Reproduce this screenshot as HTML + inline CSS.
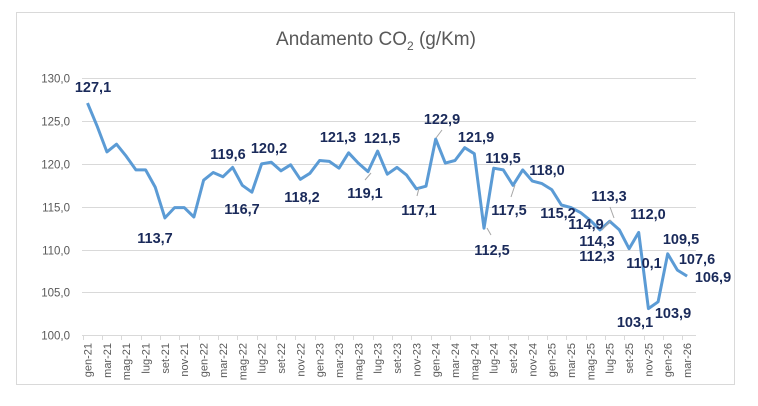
<!DOCTYPE html>
<html><head><meta charset="utf-8"><style>
html,body{margin:0;padding:0;background:#fff;}
svg{display:block;font-family:"Liberation Sans",Calibri,sans-serif;}
.yl{font-size:11.5px;fill:#595959;text-anchor:end;}
.xl{font-size:11px;fill:#595959;text-anchor:end;}
.dl{font-size:14.5px;font-weight:bold;fill:#1a2a5a;text-anchor:middle;}
</style></head><body>
<svg width="758" height="406" viewBox="0 0 758 406">
<rect x="16.5" y="12.5" width="718" height="372" fill="#fff" stroke="#d9d9d9"/>
<text x="376" y="45" font-size="19" fill="#595959" text-anchor="middle">Andamento CO<tspan font-size="12" dy="5">2</tspan><tspan dy="-5"> (g/Km)</tspan></text>
<g id="grid" stroke="#d9d9d9" stroke-width="1"></g>
<g id="yl"></g>
<g id="xl"></g>
<polyline id="line" fill="none" stroke="#5b9bd5" stroke-width="3" stroke-linejoin="round"/>
<g stroke="#a6a6a6" stroke-width="1">
<line x1="365" y1="180" x2="371" y2="173"/>
<line x1="417" y1="196" x2="419" y2="188"/>
<line x1="436" y1="138" x2="442" y2="130"/>
<line x1="487" y1="228" x2="491" y2="235"/>
<line x1="511" y1="197" x2="515" y2="185"/>
<line x1="611" y1="220" x2="602" y2="230"/>
<line x1="610" y1="207" x2="614" y2="218"/>
</g>
<g id="dl"></g>
</svg>
<script>
var d=[127.1,124.4,121.4,122.3,120.9,119.3,119.3,117.3,113.7,114.9,114.9,113.8,
118.1,119.0,118.5,119.6,117.5,116.7,120.0,120.2,119.2,119.9,118.2,118.9,
120.4,120.3,119.5,121.3,120.1,119.1,121.5,118.8,119.6,118.7,117.1,117.4,
122.9,120.1,120.4,121.9,121.2,112.5,119.5,119.3,117.5,119.3,118.0,117.7,
117.0,115.2,114.9,114.3,113.4,112.3,113.3,112.3,110.1,112.0,103.1,103.9,
109.5,107.6,106.9];
var ns="http://www.w3.org/2000/svg";
function el(t,a,p,txt){var e=document.createElementNS(ns,t);for(var k in a)e.setAttribute(k,a[k]);if(txt)e.textContent=txt;document.getElementById(p).appendChild(e);return e;}
var x0=82.7,st=9.67;
function Y(v){return 78.3+(130-v)*8.563;}
for(var v=100;v<=130;v+=5){var y=Math.round(Y(v))+0.5;
 if(v>100)el('line',{x1:82,x2:696,y1:y,y2:y},'grid');
 el('text',{x:70,y:y+4,'class':'yl'},'yl',v+',0');}
el('line',{x1:82,x2:696,y1:335.5,y2:335.5},'grid');
var m=['gen','mar','mag','lug','set','nov'];
for(var i=0;i<=63;i+=2){var x=Math.round(x0+i*st)+0.5;el('line',{x1:x,x2:x,y1:335,y2:340},'grid');}
for(var i=0;i<63;i+=2){var cx=x0+(i+0.5)*st+4;var yr=21+Math.floor(i/12);
 el('text',{x:cx,y:343,'class':'xl',transform:'rotate(-90 '+cx+' 343)'},'xl',m[(i%12)/2]+'-'+yr);}
var pts=d.map(function(v,i){return (x0+(i+0.5)*st).toFixed(1)+','+Y(v).toFixed(1);}).join(' ');
document.getElementById('line').setAttribute('points',pts);
var L=[['127,1',93,92],['113,7',155,243],['119,6',228,159],['116,7',242,214],['120,2',269,153],['118,2',302,202],['121,3',338,142],['119,1',365,198],['121,5',382,143],['117,1',419,215],['122,9',442,124],['121,9',476,142],['119,5',503,163],['117,5',509,215],['112,5',492,255],['118,0',547,175],['115,2',558,218],['114,9',586,229],['114,3',597,246],['112,3',597,261],['113,3',609,201],['112,0',648,219],['110,1',644,268],['109,5',681,244],['107,6',697,264],['106,9',713,282],['103,1',635,327],['103,9',673,318]];
L.forEach(function(l){el('text',{x:l[1],y:l[2],'class':'dl'},'dl',l[0]);});
</script>
</body></html>
